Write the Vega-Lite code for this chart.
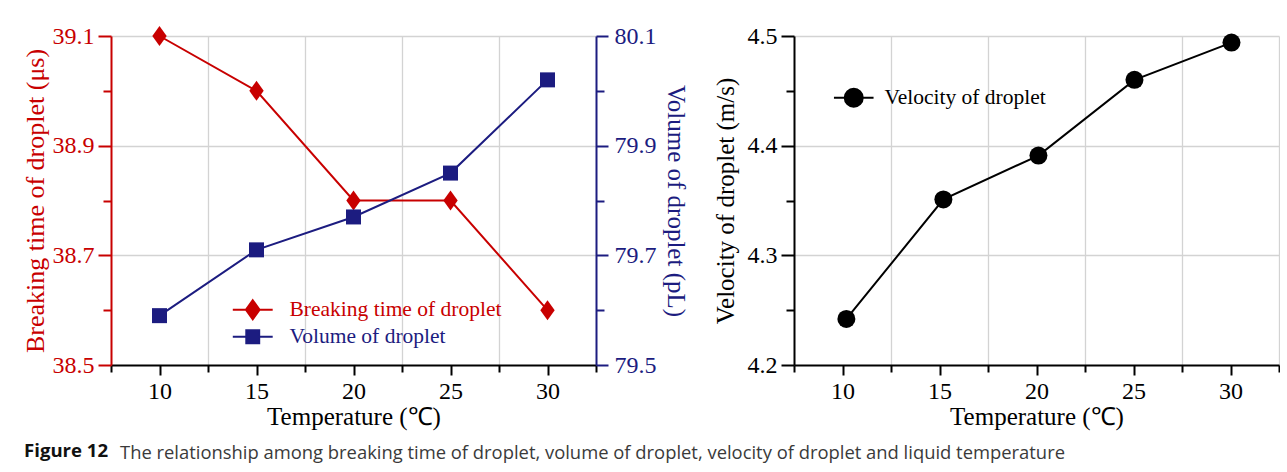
{
  "$schema": "https://vega.github.io/schema/vega-lite/v6.json",
  "padding": {"left": 22, "top": 24, "right": 0, "bottom": 12},
  "background": "white",
  "datasets": {
    "left": [
      {"temperature": 10, "breaking": 39.1, "volume": 79.59},
      {"temperature": 15, "breaking": 39.0, "volume": 79.71},
      {"temperature": 20, "breaking": 38.8, "volume": 79.77},
      {"temperature": 25, "breaking": 38.8, "volume": 79.85},
      {"temperature": 30, "breaking": 38.6, "volume": 80.02}
    ],
    "right": [
      {"temperature": 10.2, "velocity": 4.242},
      {"temperature": 15.2, "velocity": 4.351},
      {"temperature": 20.1, "velocity": 4.391},
      {"temperature": 25.05, "velocity": 4.46},
      {"temperature": 30.05, "velocity": 4.494}
    ]
  },
  "title": {
    "text": "The relationship among breaking time of droplet, volume of droplet, velocity of droplet and liquid temperature",
    "orient": "bottom", "anchor": "start", "frame": "bounds", "dx": 98, "offset": -17,
    "font": "Open Sans", "fontSize": 18.4, "fontWeight": "normal", "color": "#3a3a3a"
  },
  "spacing": 26,
  "hconcat": [
    {
      "width": 485, "height": 329,
      "data": {"name": "left"},
      "title": {"text": "Figure 12", "orient": "bottom", "anchor": "start", "frame": "bounds", "offset": 13, "dx": 2,
        "font": "Open Sans", "fontSize": 18.6, "fontWeight": "bold", "color": "#111111"},
      "encoding": {
        "x": {
          "field": "temperature", "type": "quantitative",
          "scale": {"domain": [7.5, 32.5], "nice": false, "zero": false},
          "axis": {
            "title": "Temperature (℃)",
            "titlePadding": 1,
            "values": [7.5, 10, 12.5, 15, 17.5, 20, 22.5, 25, 27.5, 30, 32.5],
            "labelExpr": "datum.value % 5 == 0 ? format(datum.value, 'd') : ''",
            "tickSize": {"condition": {"test": "datum.value % 5 == 0", "value": 10}, "value": 7},
            "gridOpacity": {"condition": {"test": "datum.value % 5 == 0 || datum.value == 7.5 || datum.value == 32.5", "value": 0}, "value": 1}
          }
        }
      },
      "layer": [
        {
          "encoding": {
            "y": {
              "field": "breaking", "type": "quantitative",
              "scale": {"domain": [38.5, 39.1], "nice": false, "zero": false},
              "axis": {
                "orient": "left",
                "title": "Breaking time of droplet (μs)",
                "titleFontSize": 26,
                "values": [38.5, 38.6, 38.7, 38.8, 38.9, 39.0, 39.1],
                "labelExpr": "round(datum.value * 10) % 2 == 1 ? format(datum.value, '.1f') : ''",
                "tickSize": {"condition": {"test": "round(datum.value * 10) % 2 == 1", "value": 13}, "value": 8},
                "gridOpacity": {"condition": {"test": "round(datum.value * 10) % 2 == 1 && datum.value > 38.55", "value": 1}, "value": 0},
                "domainColor": "#c80000", "tickColor": "#c80000", "labelColor": "#c80000", "titleColor": "#c80000",
                "titlePadding": 4
              }
            },
            "color": {
              "datum": "Breaking time of droplet",
              "scale": {"domain": ["Breaking time of droplet", "Volume of droplet"], "range": ["#c80000", "#1c1c80"]},
              "legend": {
                "orient": "none", "legendX": 131, "legendY": 263, "title": null,
                "labelFont": "Liberation Serif", "labelFontSize": 21.5, "symbolSize": 361, "labelLimit": 0,
                "labelOffset": 26, "rowPadding": 1, "padding": 0,
                "encode": {
                  "symbols": {"update": {
                    "shape": {"signal": "datum.value == 'Volume of droplet' ? 'M-2.1,0H2.1M-0.68,-0.68H0.68V0.68H-0.68Z' : 'M-2.1,0H2.1M0,-1L0.72,0L0,1L-0.72,0Z'"},
                    "fill": {"signal": "datum.value == 'Volume of droplet' ? '#1c1c80' : '#c80000'"},
                    "stroke": {"signal": "datum.value == 'Volume of droplet' ? '#1c1c80' : '#c80000'"},
                    "strokeWidth": {"value": 2},
                    "opacity": {"value": 1}
                  }},
                  "labels": {"update": {
                    "fill": {"signal": "datum.value == 'Volume of droplet' ? '#1c1c80' : '#c80000'"}
                  }}
                }
              }
            }
          },
          "layer": [
            {"mark": {"type": "line", "strokeWidth": 2}},
            {"mark": {"type": "point", "shape": "M0,-1L0.72,0L0,1L-0.72,0Z", "filled": true, "size": 400, "opacity": 1}}
          ]
        },
        {
          "encoding": {
            "y": {
              "field": "volume", "type": "quantitative",
              "scale": {"domain": [79.5, 80.1], "nice": false, "zero": false},
              "axis": {
                "orient": "right",
                "title": "Volume of droplet (pL)",
                "values": [79.5, 79.6, 79.7, 79.8, 79.9, 80.0, 80.1],
                "labelExpr": "round(datum.value * 10) % 2 == 1 ? format(datum.value, '.1f') : ''",
                "tickSize": {"condition": {"test": "round(datum.value * 10) % 2 == 1", "value": 12}, "value": 8},
                "grid": false,
                "domainColor": "#1c1c80", "tickColor": "#1c1c80", "labelColor": "#1c1c80", "titleColor": "#1c1c80",
                "labelPadding": 6, "titlePadding": 6
              }
            },
            "color": {"datum": "Volume of droplet"}
          },
          "layer": [
            {"mark": {"type": "line", "strokeWidth": 2}},
            {"mark": {"type": "point", "shape": "square", "filled": true, "size": 225, "opacity": 1}}
          ]
        }
      ],
      "resolve": {"scale": {"y": "independent"}}
    },
    {
      "width": 485, "height": 329,
      "data": {"name": "right"},
      "encoding": {
        "x": {
          "field": "temperature", "type": "quantitative",
          "scale": {"domain": [7.5, 32.5], "nice": false, "zero": false},
          "axis": {
            "title": "Temperature (℃)",
            "titlePadding": 1,
            "values": [7.5, 10, 12.5, 15, 17.5, 20, 22.5, 25, 27.5, 30, 32.5],
            "labelExpr": "datum.value % 5 == 0 ? format(datum.value, 'd') : ''",
            "tickSize": {"condition": {"test": "datum.value % 5 == 0", "value": 10}, "value": 7},
            "gridOpacity": {"condition": {"test": "datum.value % 5 == 0 || datum.value == 7.5", "value": 0}, "value": 1}
          }
        },
        "y": {
          "field": "velocity", "type": "quantitative",
          "scale": {"domain": [4.2, 4.5], "nice": false, "zero": false},
          "axis": {
            "title": "Velocity of droplet (m/s)",
            "values": [4.2, 4.25, 4.3, 4.35, 4.4, 4.45, 4.5],
            "labelExpr": "abs(datum.value * 10 - round(datum.value * 10)) < 0.01 ? format(datum.value, '.1f') : ''",
            "tickSize": {"condition": {"test": "abs(datum.value * 10 - round(datum.value * 10)) < 0.01", "value": 13}, "value": 8},
            "gridOpacity": {"condition": {"test": "abs(datum.value * 10 - round(datum.value * 10)) < 0.01 && datum.value > 4.22", "value": 1}, "value": 0},
            "titlePadding": 9
          }
        },
        "color": {
          "datum": "Velocity of droplet",
          "scale": {"domain": ["Velocity of droplet"], "range": ["#000000"]},
          "legend": {
            "orient": "none", "legendX": 49, "legendY": 51, "title": null,
            "labelFont": "Liberation Serif", "labelFontSize": 21.5, "symbolSize": 324, "labelLimit": 0,
            "labelOffset": 20, "padding": 0, "labelColor": "#000000",
            "encode": {
              "symbols": {"update": {
                "shape": {"value": "M-2.2,0H2.2M1,0A1,1,0,1,1,-1,0A1,1,0,1,1,1,0Z"},
                "fill": {"value": "#000000"},
                "stroke": {"value": "#000000"},
                "strokeWidth": {"value": 2},
                "opacity": {"value": 1}
              }}
            }
          }
        }
      },
      "layer": [
        {"mark": {"type": "line", "strokeWidth": 2}},
        {"mark": {"type": "point", "shape": "circle", "filled": true, "size": 324, "opacity": 1}}
      ]
    }
  ],
  "resolve": {"scale": {"color": "independent", "x": "independent", "y": "independent"}, "legend": {"color": "independent"}},
  "config": {
    "font": "Liberation Serif",
    "view": {"stroke": null},
    "axis": {
      "labelFont": "Liberation Serif", "titleFont": "Liberation Serif",
      "labelFontSize": 24, "titleFontSize": 25, "titleFontWeight": "normal",
      "domainWidth": 2, "tickWidth": 2, "gridColor": "#d3d3d3", "gridWidth": 1.3,
      "labelColor": "#000000", "titleColor": "#000000", "domainColor": "#000000", "tickColor": "#000000",
      "labelPadding": 4, "titlePadding": 4, "labelFlush": false, "labelOverlap": false
    }
  }
}
